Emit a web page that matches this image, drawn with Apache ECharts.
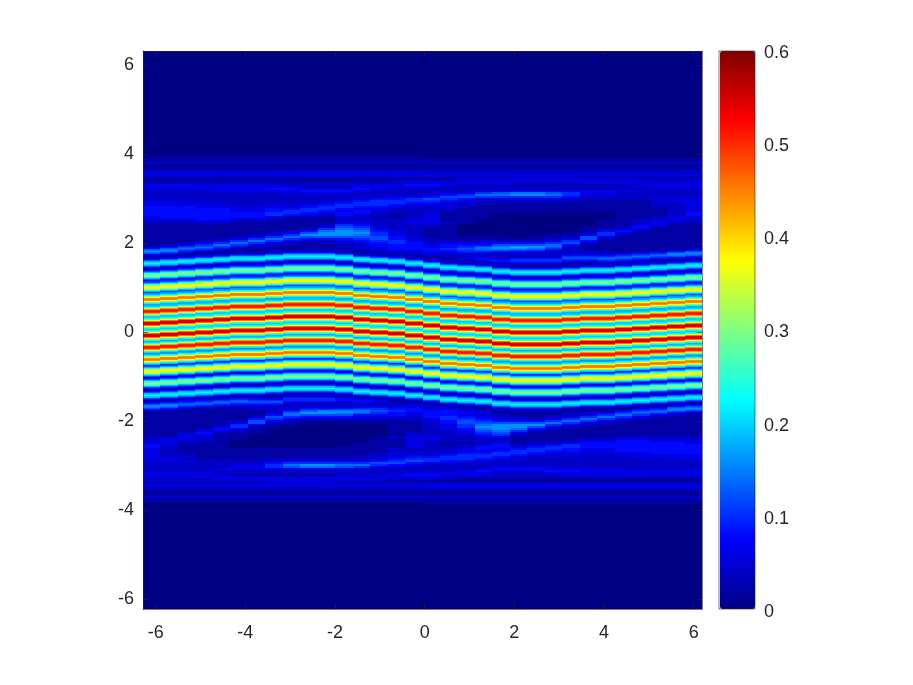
<!DOCTYPE html>
<html>
<head>
<meta charset="utf-8">
<title>heatmap</title>
<script src="https://cdn.jsdelivr.net/npm/echarts@6/dist/echarts.min.js"></script>
<style>
	html, body { margin: 0; padding: 0; background: #fff; }
	#chart { width: 913px; height: 685px; }
</style>
</head>
<body>
<div id="chart"></div>
<script>
// tick labels
const xTicks = [-6, -4, -2, 0, 2, 4, 6];
const yTicks = [-6, -4, -2, 0, 2, 4, 6];

// colour scale, jet
const jetColors = ['#000084', '#0000ff', '#0080ff', '#00ffff', '#80ff80', '#ffff00', '#ff8000', '#ff0000', '#800000'];

// values, one string per column, top to bottom, one char per row
// char index in levelChars x levelStep = value
const levelChars = '0123456789abcdefghijklmnopqrstu';
const levelStep = 0.02;

// faint bands above the stripes, coarse rows
const upperLevels = [
	'000111 211123 321123 332222 233344 444332 211111 111111',
	'000111 211123 321123 332222 233344 444432 211111 111112',
	'000111 211123 321123 332222 223344 444432 211111 111123',
	'000111 211123 321123 332222 223334 444443 211111 111235',
	'000111 211123 321123 333222 222334 444443 211111 112357',
	'000111 211123 321123 333222 222233 344432 111111 123575',
	'000111 211123 321123 333222 222233 344432 111111 235753',
	'000111 211123 321123 343222 222334 455321 111112 357532',
	'000111 211123 321122 343322 222234 554211 111123 575321',
	'000111 211123 321122 234322 222345 543211 111246 864211',
	'000111 211123 321122 234322 223455 432111 123578 864221',
	'000111 211123 321122 234322 234554 344322 356788 864322',
	'000111 211123 321123 343222 345543 443222 345678 765432',
	'000111 211123 321123 332222 455543 322122 223345 566543',
	'000111 211123 321223 322223 455432 221122 222233 344554',
	'000111 211123 321234 322223 554322 222223 322222 223344',
	'000011 211122 321234 322234 654322 233333 322111 112223',
	'000011 211122 321233 222346 543232 211111 211111 111234',
	'000011 211122 322332 222356 432221 111111 100000 011234',
	'000011 211122 322332 223575 322111 111100 000000 011234',
	'000011 211122 322332 223675 321111 110000 000000 011246',
	'000011 211122 323321 223785 321111 100000 000000 001246',
	'000011 211122 323321 223785 321111 100000 000000 011246',
	'000011 211122 323321 223675 321111 100000 000000 112357',
	'000011 211122 323321 223554 221111 100000 000001 123564',
	'000011 211122 322331 223332 211111 100000 001112 366421',
	'000011 211122 322331 223332 211111 100001 111235 532111',
	'000011 211122 322332 223222 211111 111111 112343 211111',
	'000011 211122 322232 322222 211111 111122 234321 111111',
	'000011 211122 322233 322222 322221 111223 332111 111111',
	'000011 211122 322233 322222 332222 222333 211111 111111',
	'000011 211122 322233 322222 333333 344322 211111 111111'
];

// stripes, fine rows
const bandLevels = [
	'13467876431 22469aba9642 3469cefec964 569cgijigc96 89bfjmnmjfb9 9adhmpqpmhda abejnrsrnjeb abejnrsrnjeb 9adhmpqpmhda 89bfjmnmjfb9 569cgijigc96 3469cefec964 22469aba9642 1346787643111',
	'3467876431 22469aba9642 3469cefec964 569cgijigc96 89bfjmnmjfb9 9adhmpqpmhda abejnrsrnjeb abejnrsrnjeb 9adhmpqpmhda 89bfjmnmjfb9 569cgijigc96 3469cefec964 22469aba9642 13467876431111',
	'567654311 22469aba9642 3469cefec964 569cgijigc96 89bfjmnmjfb9 9adhmpqpmhda abejnrsrnjeb abejnrsrnjeb 9adhmpqpmhda 89bfjmnmjfb9 569cgijigc96 3469cefec964 22469aba9642 134567654311111',
	'67654311 22469aba9642 3469cefec964 569cgijigc96 89bfjmnmjfb9 9adhmpqpmhda abejnrsrnjeb abejnrsrnjeb 9adhmpqpmhda 89bfjmnmjfb9 569cgijigc96 3469cefec964 22469aba9642 1345676543111111',
	'6543111 22469aba9642 3469cefec964 569cgijigc96 89bfjmnmjfb9 9adhmpqpmhda abejnrsrnjeb abejnrsrnjeb 9adhmpqpmhda 89bfjmnmjfb9 569cgijigc96 3469cefec964 22469aba9642 13456765431111111',
	'431111 22469aba9642 3469cefec964 569cgijigc96 89bfjmnmjfb9 9adhmpqpmhda abejnrsrnjeb abejnrsrnjeb 9adhmpqpmhda 89bfjmnmjfb9 569cgijigc96 3469cefec964 22469aba9642 134567654322111111',
	'311111 22469aba9642 3469cefec964 569cgijigc96 89bfjmnmjfb9 9adhmpqpmhda abejnrsrnjeb abejnrsrnjeb 9adhmpqpmhda 89bfjmnmjfb9 569cgijigc96 3469cefec964 22469aba9642 123456654322221111',
	'21111 22469aba9642 3469cefec964 569cgijigc96 89bfjmnmjfb9 9adhmpqpmhda abejnrsrnjeb abejnrsrnjeb 9adhmpqpmhda 89bfjmnmjfb9 569cgijigc96 3469cefec964 22469aba9642 1123456654322222223',
	'1111 22469aba9642 3469cefec964 569cgijigc96 89bfjmnmjfb9 9adhmpqpmhda abejnrsrnjeb abejnrsrnjeb 9adhmpqpmhda 89bfjmnmjfb9 569cgijigc96 3469cefec964 22469aba9642 12345554322222234567',
	'1122 22469aba9642 3469cefec964 569cgijigc96 89bfjmnmjfb9 9adhmpqpmhda abejnrsrnjeb abejnrsrnjeb 9adhmpqpmhda 89bfjmnmjfb9 569cgijigc96 3469cefec964 22469aba9642 12345554322223456788',
	'1112 22469aba9642 3469cefec964 569cgijigc96 89bfjmnmjfb9 9adhmpqpmhda abejnrsrnjeb abejnrsrnjeb 9adhmpqpmhda 89bfjmnmjfb9 569cgijigc96 3469cefec964 22469aba9642 12345554322223457888',
	'11122 22469aba9642 3469cefec964 569cgijigc96 89bfjmnmjfb9 9adhmpqpmhda abejnrsrnjeb abejnrsrnjeb 9adhmpqpmhda 89bfjmnmjfb9 569cgijigc96 3469cefec964 22469aba9642 1234443222223467887',
	'3322111 22469aba9642 3469cefec964 569cgijigc96 89bfjmnmjfb9 9adhmpqpmhda abejnrsrnjeb abejnrsrnjeb 9adhmpqpmhda 89bfjmnmjfb9 569cgijigc96 3469cefec964 22469aba9642 12344322234567776',
	'43332211 22469aba9642 3469cefec964 569cgijigc96 89bfjmnmjfb9 9adhmpqpmhda abejnrsrnjeb abejnrsrnjeb 9adhmpqpmhda 89bfjmnmjfb9 569cgijigc96 3469cefec964 22469aba9642 1233222234556655',
	'444433221 22469aba9642 3469cefec964 569cgijigc96 89bfjmnmjfb9 9adhmpqpmhda abejnrsrnjeb abejnrsrnjeb 9adhmpqpmhda 89bfjmnmjfb9 569cgijigc96 3469cefec964 22469aba9642 111222233445544',
	'44433332211 22469aba9642 3469cefec964 569cgijigc96 89bfjmnmjfb9 9adhmpqpmhda abejnrsrnjeb abejnrsrnjeb 9adhmpqpmhda 89bfjmnmjfb9 569cgijigc96 3469cefec964 22469aba9642 1122333444433',
	'3344443332211 22469aba9642 3469cefec964 569cgijigc96 89bfjmnmjfb9 9adhmpqpmhda abejnrsrnjeb abejnrsrnjeb 9adhmpqpmhda 89bfjmnmjfb9 569cgijigc96 3469cefec964 22469aba9642 11223333444',
	'445544332222111 22469aba9642 3469cefec964 569cgijigc96 89bfjmnmjfb9 9adhmpqpmhda abejnrsrnjeb abejnrsrnjeb 9adhmpqpmhda 89bfjmnmjfb9 569cgijigc96 3469cefec964 22469aba9642 122334444',
	'5566554322223321 22469aba9642 3469cefec964 569cgijigc96 89bfjmnmjfb9 9adhmpqpmhda abejnrsrnjeb abejnrsrnjeb 9adhmpqpmhda 89bfjmnmjfb9 569cgijigc96 3469cefec964 22469aba9642 11223334',
	'67776543222344321 22469aba9642 3469cefec964 569cgijigc96 89bfjmnmjfb9 9adhmpqpmhda abejnrsrnjeb abejnrsrnjeb 9adhmpqpmhda 89bfjmnmjfb9 569cgijigc96 3469cefec964 22469aba9642 1112233',
	'7887643222223444321 22469aba9642 3469cefec964 569cgijigc96 89bfjmnmjfb9 9adhmpqpmhda abejnrsrnjeb abejnrsrnjeb 9adhmpqpmhda 89bfjmnmjfb9 569cgijigc96 3469cefec964 22469aba9642 22111',
	'89875432222345554321 22469aba9642 3469cefec964 569cgijigc96 89bfjmnmjfb9 9adhmpqpmhda abejnrsrnjeb abejnrsrnjeb 9adhmpqpmhda 89bfjmnmjfb9 569cgijigc96 3469cefec964 22469aba9642 2111',
	'88765432222345554321 22469aba9642 3469cefec964 569cgijigc96 89bfjmnmjfb9 9adhmpqpmhda abejnrsrnjeb abejnrsrnjeb 9adhmpqpmhda 89bfjmnmjfb9 569cgijigc96 3469cefec964 22469aba9642 2211',
	'76543222222345554321 22469aba9642 3469cefec964 569cgijigc96 89bfjmnmjfb9 9adhmpqpmhda abejnrsrnjeb abejnrsrnjeb 9adhmpqpmhda 89bfjmnmjfb9 569cgijigc96 3469cefec964 22469aba9642 1111',
	'3222222234566543211 22469aba9642 3469cefec964 569cgijigc96 89bfjmnmjfb9 9adhmpqpmhda abejnrsrnjeb abejnrsrnjeb 9adhmpqpmhda 89bfjmnmjfb9 569cgijigc96 3469cefec964 22469aba9642 11112',
	'111122223456654321 22469aba9642 3469cefec964 569cgijigc96 89bfjmnmjfb9 9adhmpqpmhda abejnrsrnjeb abejnrsrnjeb 9adhmpqpmhda 89bfjmnmjfb9 569cgijigc96 3469cefec964 22469aba9642 111113',
	'111111223456765431 22469aba9642 3469cefec964 569cgijigc96 89bfjmnmjfb9 9adhmpqpmhda abejnrsrnjeb abejnrsrnjeb 9adhmpqpmhda 89bfjmnmjfb9 569cgijigc96 3469cefec964 22469aba9642 111134',
	'11111113456765431 22469aba9642 3469cefec964 569cgijigc96 89bfjmnmjfb9 9adhmpqpmhda abejnrsrnjeb abejnrsrnjeb 9adhmpqpmhda 89bfjmnmjfb9 569cgijigc96 3469cefec964 22469aba9642 1113456',
	'1111113456765431 22469aba9642 3469cefec964 569cgijigc96 89bfjmnmjfb9 9adhmpqpmhda abejnrsrnjeb abejnrsrnjeb 9adhmpqpmhda 89bfjmnmjfb9 569cgijigc96 3469cefec964 22469aba9642 11345676',
	'111113456765431 22469aba9642 3469cefec964 569cgijigc96 89bfjmnmjfb9 9adhmpqpmhda abejnrsrnjeb abejnrsrnjeb 9adhmpqpmhda 89bfjmnmjfb9 569cgijigc96 3469cefec964 22469aba9642 113456765',
	'11113467876431 22469aba9642 3469cefec964 569cgijigc96 89bfjmnmjfb9 9adhmpqpmhda abejnrsrnjeb abejnrsrnjeb 9adhmpqpmhda 89bfjmnmjfb9 569cgijigc96 3469cefec964 22469aba9642 1346787643',
	'1113467876431 22469aba9642 3469cefec964 569cgijigc96 89bfjmnmjfb9 9adhmpqpmhda abejnrsrnjeb abejnrsrnjeb 9adhmpqpmhda 89bfjmnmjfb9 569cgijigc96 3469cefec964 22469aba9642 13467876431'
];

// faint bands below the stripes, coarse rows
const lowerLevels = [
	'111111 111112 223443 333333 222223 332223 221112 110000',
	'111111 111112 333222 222233 222223 332223 221112 110000',
	'111111 111233 322111 122223 222223 332223 221112 110000',
	'111111 123432 221111 111112 222223 232223 221112 110000',
	'111112 343211 111111 111112 222322 233223 221112 110000',
	'111235 532111 100001 111112 233322 133223 221112 110000',
	'124663 211100 000001 111112 233322 133223 221112 110000',
	'465321 100000 000001 111122 455322 123323 221112 110000',
	'753211 000000 000001 111123 576322 123323 221112 110000',
	'642110 000000 000001 111123 587322 123323 221112 110000',
	'642100 000000 000001 111123 587322 123323 221112 110000',
	'642110 000000 000011 111123 576322 233223 221112 110000',
	'432110 000000 001111 111223 575322 233223 221112 110000',
	'432110 000001 111111 122234 653222 233223 221112 110000',
	'432111 111112 111112 232345 643222 332123 221112 110000',
	'322211 111223 333332 223456 432223 432123 221112 110000',
	'443322 222223 322222 223455 322223 432123 321112 111000',
	'455443 332222 221122 234554 322223 322123 321112 111000',
	'345665 543322 221223 345554 222233 321123 321112 111000',
	'234567 876543 222344 345543 222343 321123 321112 111000',
	'223468 887653 223443 455432 223432 221123 321112 111000',
	'122468 875321 111234 554322 223432 221123 321112 111000',
	'112468 642111 112345 543222 223432 221123 321112 111000',
	'123575 321111 112455 432222 223343 221123 321112 111000',
	'235753 211111 123554 433222 222343 321123 321112 111000',
	'357532 111111 234443 332222 222333 321123 321112 111000',
	'575321 111111 234443 332222 222333 321123 321112 111000',
	'753211 111112 344444 433222 222333 321123 321112 111000',
	'532111 111112 344444 433322 222233 321123 321112 111000',
	'321111 111112 234444 443322 222233 321123 321112 111000',
	'211111 111112 234444 443332 222233 321123 321112 111000',
	'111111 111112 233444 443332 222233 321123 321112 111000'
];

// axis ranges of the plot
const xMin = -6.283, xMax = 6.186;
const yMin = -6.213, yMax = 6.326;
const plotHeight = 558;
const yUnit = (yMax - yMin) / plotHeight;
const colStep = (xMax - xMin) / bandLevels.length;

// pushes one block of rows, top is counted in pixels from the top of the plot
function addRows(cells, levelList, top, rowHeight) {
	levelList.forEach((col, c) => {
		let levels = col.replace(/\s/g, '');
		for (let r = 0; r < levels.length; r++) {
			cells.push([
				xMin + (c + 0.5) * colStep,
				yMax - (top + (r + 0.5) * rowHeight) * yUnit,
				levelChars.indexOf(levels[r]) * levelStep,
				rowHeight * yUnit
			]);
		}
	});
}

let cells = [];
addRows(cells, upperLevels, 99, 2);
addRows(cells, bandLevels, 195, 1);
addRows(cells, lowerLevels, 363, 2);

function renderCell(params, api) {
	let p = api.coord([api.value(0), api.value(1)]);
	let s = api.size([colStep, api.value(3)]);
	let left = Math.round(p[0] - s[0] / 2);
	let right = api.coord([xMax, yMin])[0];
	return {
		type: 'rect',
		shape: {
			x: left,
			y: Math.round(p[1] - s[1] / 2),
			width: Math.min(Math.round(s[0]) + 1, right - left),
			height: Math.round(s[1]) + 1
		},
		style: { fill: api.visual('color') }
	};
}

const labelStyle = { color: '#262626', fontFamily: 'Liberation Sans', fontSize: 18 };
const lineStyle = { color: '#262626', width: 0.6 };

function boxAxis(position, ticks, min, max, labels) {
	return {
		type: 'value',
		gridIndex: 0,
		position: position,
		min: min,
		max: max,
		z: 5,
		splitLine: { show: false },
		axisLine: { show: true, onZero: false, lineStyle: lineStyle },
		axisTick: { show: true, inside: true, length: 5, lineStyle: lineStyle, customValues: ticks },
		axisLabel: Object.assign({ show: labels, margin: position === 'bottom' ? 15 : 9, customValues: ticks }, labelStyle)
	};
}

let myChart = echarts.init(document.getElementById('chart'), null, { renderer: 'canvas' });
myChart.setOption({
	animation: false,
	backgroundColor: '#fff',
	grid: [
		{ left: 143, top: 51, width: 559, height: plotHeight, show: true, backgroundColor: jetColors[0], borderWidth: 0 },
		// colour bar frame
		{ left: 719, top: 51, width: 36, height: plotHeight, show: true, z: 10, backgroundColor: 'transparent', borderColor: '#262626', borderWidth: 0.6 },
		// colour bar labels, text sits a bit low in the original
		{ left: 719, top: 53, width: 36, height: plotHeight + 1 }
	],
	xAxis: [
		boxAxis('bottom', xTicks, xMin, xMax, true),
		boxAxis('top', xTicks, xMin, xMax, false),
		{ type: 'value', gridIndex: 1, min: 0, max: 1, show: false },
		{ type: 'value', gridIndex: 2, min: 0, max: 1, show: false }
	],
	yAxis: [
		boxAxis('left', yTicks, yMin, yMax, true),
		boxAxis('right', yTicks, yMin, yMax, false),
		{ type: 'value', gridIndex: 1, min: 0, max: 1, show: false },
		{
			type: 'value',
			gridIndex: 2,
			position: 'right',
			min: 0,
			max: 0.6,
			interval: 0.1,
			z: 11,
			splitLine: { show: false },
			axisLine: { show: false },
			axisTick: { show: false },
			axisLabel: Object.assign({ margin: 9 }, labelStyle)
		}
	],
	visualMap: {
		type: 'continuous',
		seriesIndex: 0,
		dimension: 2,
		min: 0,
		max: 0.6,
		left: 720,
		top: 51,
		itemWidth: 35,
		itemHeight: plotHeight,
		padding: 0,
		calculable: false,
		hoverLink: false,
		text: null,
		showLabel: false,
		inRange: { color: jetColors }
	},
	series: [
		{
			type: 'custom',
			xAxisIndex: 0,
			yAxisIndex: 0,
			silent: true,
			renderItem: renderCell,
			encode: { x: 0, y: 1 },
			data: cells
		}
	]
});
</script>
</body>
</html>
